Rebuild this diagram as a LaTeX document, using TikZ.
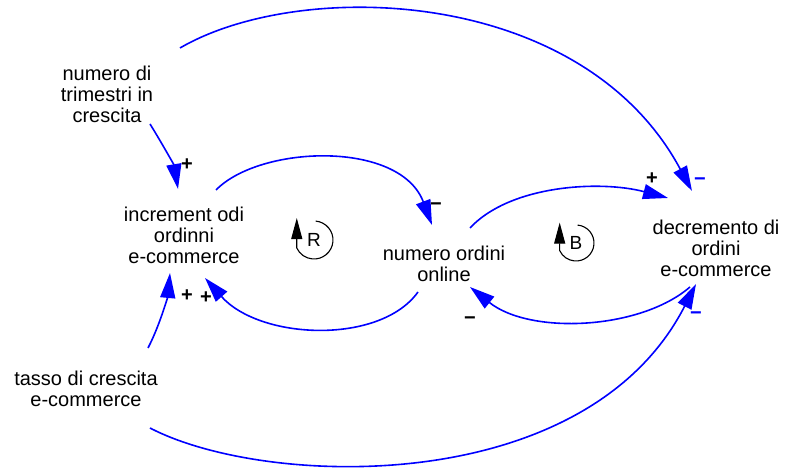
\documentclass[tikz,border=0pt]{standalone}
\usepackage{fontspec}
\setmainfont{Liberation Sans}
\usetikzlibrary{arrows.meta}
\definecolor{linkblue}{RGB}{0,0,255}
\tikzset{
  var/.style={align=center, inner sep=0pt, font=\fontsize{20}{21}\selectfont},
  link/.style={draw=linkblue, line width=1.6pt, -{Triangle[length=25pt,width=15pt]}},
  pol/.style={font=\fontsize{20}{20}\bfseries\selectfont, inner sep=0pt},
  loopsym/.style={line width=1.1pt, -{Triangle[length=21pt,width=11pt]}},
  looplabel/.style={font=\fontsize{19}{19}\selectfont, inner sep=0pt}
}
\begin{document}
\begin{tikzpicture}[x=1pt,y=1pt]
\useasboundingbox (0,0) rectangle (788,468);

% variables
\node[var] (trim)  at (107,374) {numero di\\trimestri in\\crescita};
\node[var] (inc)   at (184,233) {increment odi\\ordinni\\e-commerce};
\node[var] (num)   at (444,204) {numero ordini\\online};
\node[var] (dec)   at (716,220) {decremento di\\ordini\\e-commerce};
\node[var] (tasso) at (86,79)   {tasso di crescita\\e-commerce};

% causal links
\draw[link] ([shift={(43pt,-30pt)}]trim.center) .. controls +(10,-16) and +(-4,24) .. ([shift={(-6pt,46pt)}]inc.center);
\draw[link] ([shift={(73pt,46pt)}]trim.center) .. controls +(120,70) and +(-110,205) .. ([shift={(-24pt,57pt)}]dec.center);
\draw[link] ([shift={(32pt,45pt)}]inc.center) .. controls +(44,45) and +(-32,85) .. ([shift={(-12pt,39pt)}]num.center);
\draw[link] ([shift={(-26pt,-28pt)}]num.center) .. controls +(-38,-53) and +(55,-62) .. ([shift={(21pt,-43pt)}]inc.center);
\draw[link] ([shift={(62pt,41pt)}]tasso.center) .. controls +(12,23) and +(-2,-22) .. ([shift={(-14pt,-38pt)}]inc.center);
\draw[link] ([shift={(26pt,36pt)}]num.center) .. controls +(40,43) and +(-68,18) .. ([shift={(-48pt,50pt)}]dec.center);
\draw[link] ([shift={(-26pt,-39pt)}]dec.center) .. controls +(-50,-43) and +(60,-48) .. ([shift={(26pt,-23pt)}]num.center);
\draw[link] ([shift={(64pt,-39pt)}]tasso.center) .. controls +(115,-60) and +(-110,-215) .. ([shift={(-20pt,-36pt)}]dec.center);

% link polarities
\node[pol] (p1) at (187,303) {+};
\node[pol, text=linkblue] (p2) at (700,286) {−};
\node[pol] (p3) at (436,261) {−};
\node[pol] (p4) at (187,172) {+};
\node[pol] (p5) at (206,170) {+};
\node[pol] (p6) at (652,289) {+};
\node[pol] (p7) at (470,147) {−};
\node[pol, text=linkblue] (p8) at (696,152) {−};

% loop identifiers
\node[looplabel] (rloop) at (314,228) {R};
\draw[loopsym] ([shift={(85:19pt)}]rloop.center) arc[start angle=85, end angle=-155, radius=19pt] -- ++(0,30pt);
\node[looplabel] (bloop) at (576,225) {B};
\draw[loopsym] ([shift={(85:18pt)}]bloop.center) arc[start angle=85, end angle=-155, radius=18pt] -- ++(0,28pt);
\end{tikzpicture}
\end{document}
